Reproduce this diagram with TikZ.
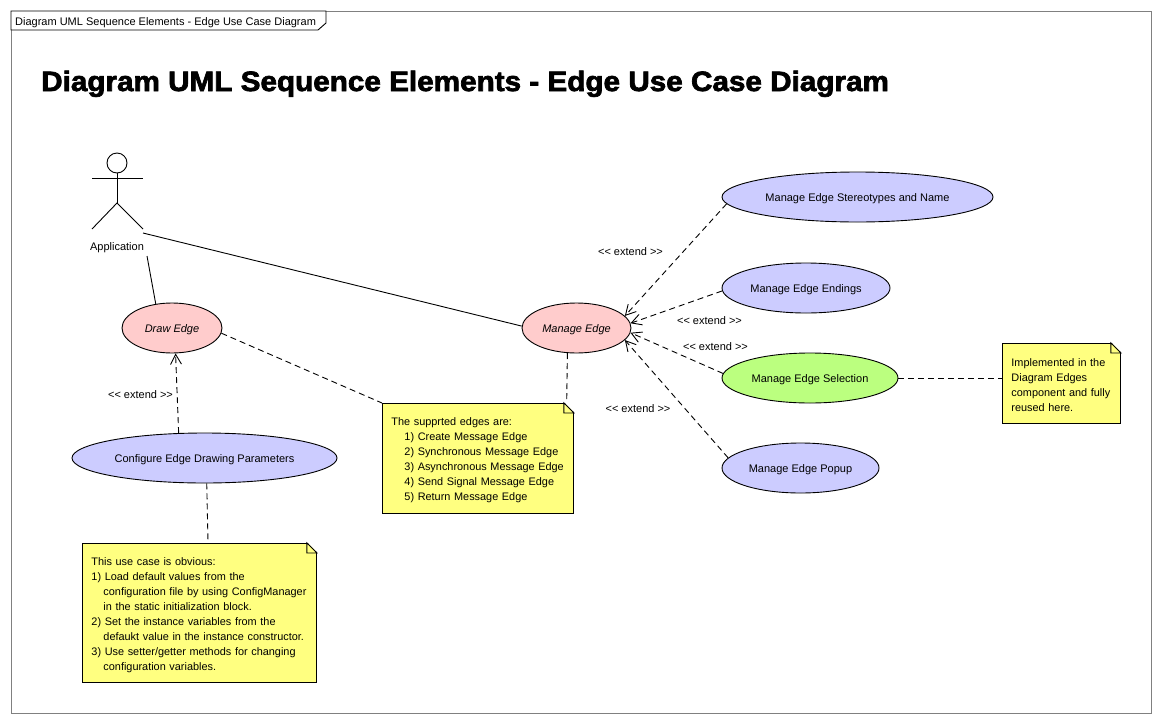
\documentclass[tikz,border=0pt]{standalone}
\usepackage{fontspec}
\setmainfont{Liberation Sans}[Ligatures=TeXOff]
\newfontfamily\titlefont{Liberation Sans}[Ligatures=TeXOff,FakeBold=2.5,FakeStretch=1.06]
\usetikzlibrary{calc}
\usetikzlibrary{arrows.meta,shapes.geometric}
\definecolor{caseblue}{HTML}{CCCCFF}
\definecolor{casepink}{HTML}{FFCCCC}
\definecolor{casegreen}{HTML}{BBFF7F}
\definecolor{noteyellow}{HTML}{FFFF80}
\tikzset{
  usecase/.style={draw,ellipse,line width=0.9pt,inner sep=0pt,minimum height=50pt,text height=8pt,text depth=0pt,font=\fontsize{11}{13}\selectfont},
  notebox/.style={draw,rectangle,line width=0.9pt,fill=noteyellow,inner xsep=9pt,inner ysep=0pt,align=left,anchor=north west,font=\fontsize{10.9}{15}\selectfont},
  solidlink/.style={line width=0.9pt},
  notelink/.style={line width=0.9pt,dash pattern=on 6pt off 4pt},
  extendarrow/.style={notelink,-{Straight Barb[length=10pt,width=11pt]}},
  extendlabel/.style={text height=8pt,text depth=0pt,font=\fontsize{11}{13}\selectfont},
}
\newcommand{\notefold}[1]{
  \fill[white] ($(#1.north east)+(-10,-1)$) -- ($(#1.north east)+(1,-1)$) -- ($(#1.north east)+(1,10)$) -- cycle;
  \draw[line width=0.9pt] ($(#1.north east)+(-10,0)$) -- ($(#1.north east)+(0,10)$) -- ($(#1.north east)+(-10,10)$) -- cycle;
}
\newcommand{\notestrut}{\rule{0pt}{12pt}}
\begin{document}
\begin{tikzpicture}[x=1pt,y=-1pt]
\useasboundingbox (0,0) rectangle (1161,723);
% Frame
\draw[gray,line width=0.9pt] (11,11) rectangle (1151,713);
\draw[line width=0.9pt,fill=white] (11,11) -- (326,11) -- (326,23) -- (318,30) -- (11,30) -- cycle;
\node[extendlabel,anchor=west,inner sep=0pt] (tabtext) at (15,21) {Diagram UML Sequence Elements - Edge Use Case Diagram};

% Title
\node[anchor=west,inner sep=0pt,text height=20pt,text depth=0pt,font=\titlefont\fontsize{28}{32}\selectfont\bfseries] (title) at (41,81) {Diagram UML Sequence Elements - Edge Use Case Diagram};

% Actor
\node[draw,circle,line width=0.9pt,minimum size=20pt,inner sep=0pt] (head) at (117,163) {};
\coordinate (hip) at (117,203);
\coordinate (armleft) at (92,178);
\coordinate (armright) at (143,178);
\coordinate (footleft) at (92,229);
\coordinate (footright) at (143,229);
\draw[solidlink] (head.south) -- (hip);
\draw[solidlink] (armleft) -- (armright);
\draw[solidlink] (footleft) -- (hip) -- (footright);
\node[extendlabel] (application) at (117,246) {Application};
\coordinate (actorside) at (143,233);
\coordinate (actorbase) at (147,256);

% Use cases
\node[usecase,fill=casepink,minimum width=100pt,font=\fontsize{11}{13}\itshape] (drawedge) at (172,328) {Draw Edge};
\node[usecase,fill=casepink,minimum width=109pt,font=\fontsize{11}{13}\itshape] (manageedge) at (576.5,328) {Manage Edge};
\node[usecase,fill=caseblue,minimum width=265pt] (configure) at (204.5,458) {Configure Edge Drawing Parameters};
\node[usecase,fill=caseblue,minimum width=271pt] (stereotypes) at (857.5,197) {Manage Edge Stereotypes and Name};
\node[usecase,fill=caseblue,minimum width=168pt] (endings) at (806,288) {Manage Edge Endings};
\node[usecase,fill=casegreen,minimum width=176pt] (selection) at (810,378) {Manage Edge Selection};
\node[usecase,fill=caseblue,minimum width=157pt] (popup) at (800.5,468) {Manage Edge Popup};

% Notes
\node[notebox,text width=173pt,minimum height=110pt] (edgesnote) at (382,403) {\notestrut The supprted edges are:\\
\hspace*{13pt}1) Create Message Edge\\
\hspace*{13pt}2) Synchronous Message Edge\\
\hspace*{13pt}3) Asynchronous Message Edge\\
\hspace*{13pt}4) Send Signal Message Edge\\
\hspace*{13pt}5) Return Message Edge};
\node[notebox,text width=216pt,minimum height=139pt] (obviousnote) at (82,543) {\notestrut This use case is obvious:\\
1) Load default values from the\\
\hspace*{12pt}configuration file by using ConfigManager\\
\hspace*{12pt}in the static initialization block.\\
2) Set the instance variables from the\\
\hspace*{12pt}defaukt value in the instance constructor.\\
3) Use setter/getter methods for changing\\
\hspace*{12pt}configuration variables.};
\node[notebox,text width=100pt,minimum height=80pt] (reusenote) at (1002,343) {\notestrut Implemented in the\\
Diagram Edges\\
component and fully\\
reused here.};
\notefold{edgesnote}
\notefold{obviousnote}
\notefold{reusenote}

% Associations
\draw[solidlink] (actorbase) -- (drawedge.124);
\draw[solidlink] (actorside) -- (manageedge.178);

% Extends
\draw[extendarrow] (configure.136) -- (drawedge.278);
\draw[extendarrow] (stereotypes.183) -- (manageedge.14);
\draw[extendarrow] (endings.182) -- (manageedge.5);
\draw[extendarrow] (selection.177) -- (manageedge.-5);
\draw[extendarrow] (popup.172) -- (manageedge.-14);
\node[extendlabel] (extendone) at (140.5,394) {<< extend >>};
\node[extendlabel] (extendtwo) at (630.5,251) {<< extend >>};
\node[extendlabel] (extendthree) at (709.5,320) {<< extend >>};
\node[extendlabel] (extendfour) at (715.5,346) {<< extend >>};
\node[extendlabel] (extendfive) at (638,408) {<< extend >>};

% Note links
\draw[notelink] (drawedge.354) -- (edgesnote.north west);
\draw[notelink] (manageedge.250) -- (edgesnote.32.5);
\draw[notelink] (configure.275.7) -- (obviousnote.83.7);
\draw[notelink] (selection.east) -- (selection.east -| reusenote.west);
\end{tikzpicture}
\end{document}
